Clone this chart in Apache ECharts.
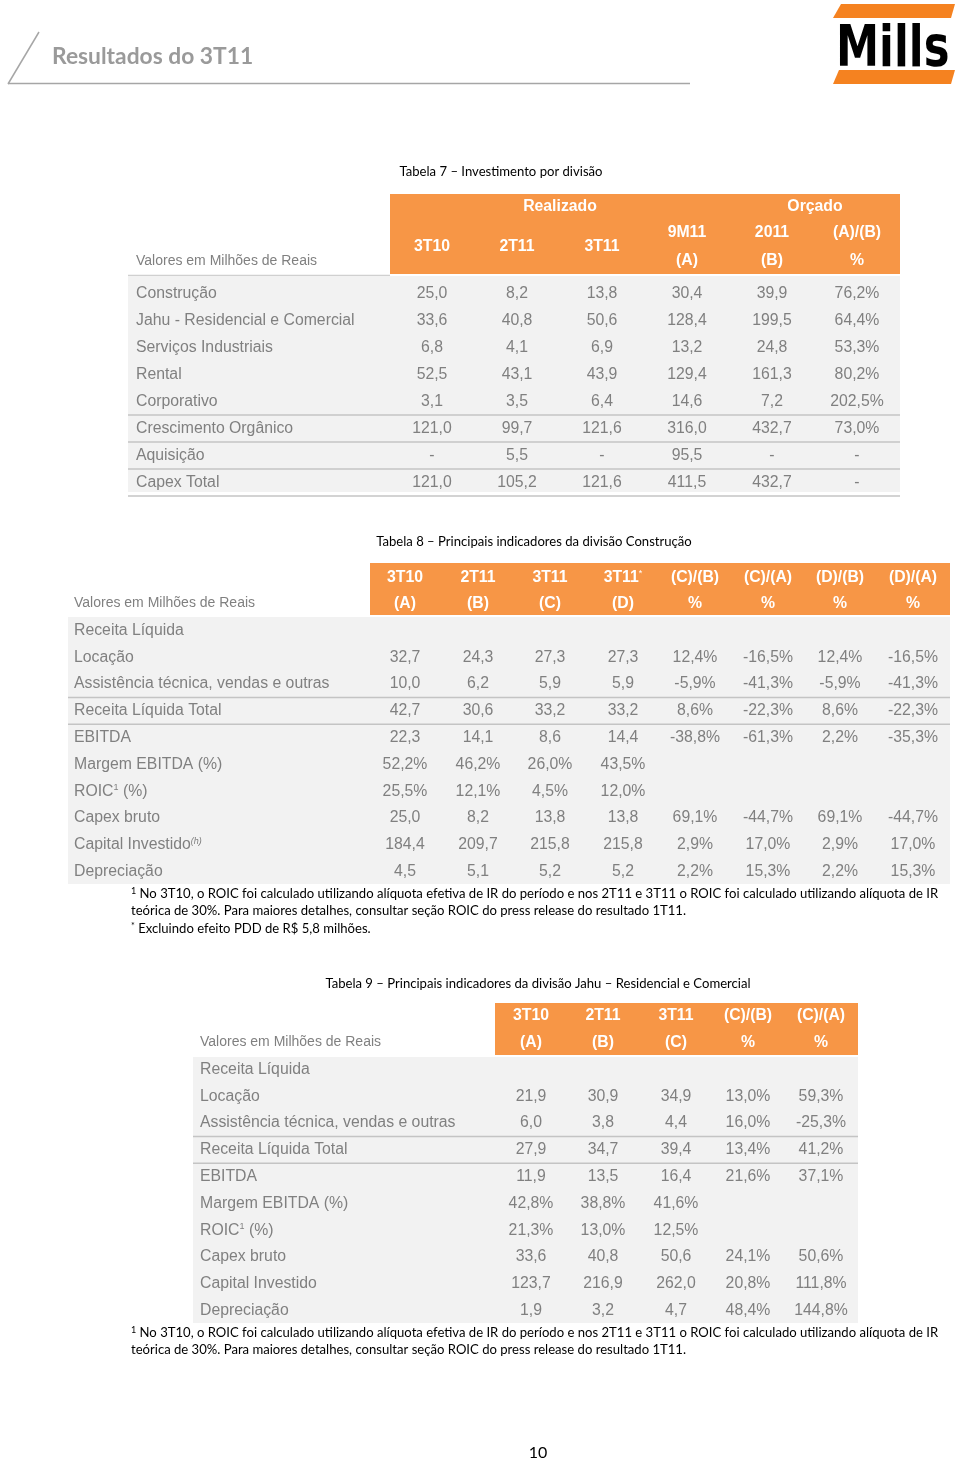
<!DOCTYPE html>
<html>
<head>
<meta charset="utf-8">
<script src="https://cdn.jsdelivr.net/npm/echarts@6/dist/echarts.min.js"></script>
<style>
  html, body { margin: 0; background: #fff; }
  #chart { width: 960px; height: 1463px; }
</style>
</head>
<body>
<div id="chart"></div>
<script>
// ---- data ----
const pageTitle = 'Resultados do 3T11';
const pageNumber = '10';
const unitLabel = 'Valores em Milhões de Reais';

// Tabela 7
const t7Title = 'Tabela 7 – Investimento por divisão';
const t7Groups = ['Realizado', 'Orçado'];
const t7Head1 = ['3T10', '2T11', '3T11', '9M11', '2011', '(A)/(B)'];
const t7Head2 = [null, null, null, '(A)', '(B)', '%'];
const t7Rows = ['Construção', 'Jahu - Residencial e Comercial', 'Serviços Industriais', 'Rental',
  'Corporativo', 'Crescimento Orgânico', 'Aquisição', 'Capex Total'];
const t7Values = [
  [25.0, 8.2, 13.8, 30.4, 39.9, 76.2],
  [33.6, 40.8, 50.6, 128.4, 199.5, 64.4],
  [6.8, 4.1, 6.9, 13.2, 24.8, 53.3],
  [52.5, 43.1, 43.9, 129.4, 161.3, 80.2],
  [3.1, 3.5, 6.4, 14.6, 7.2, 202.5],
  [121.0, 99.7, 121.6, 316.0, 432.7, 73.0],
  [null, 5.5, null, 95.5, null, null],
  [121.0, 105.2, 121.6, 411.5, 432.7, null]
];

// Tabela 8
const t8Title = 'Tabela 8 – Principais indicadores da divisão Construção';
const t8Head1 = ['3T10', '2T11', '3T11', '3T11{sup|*}', '(C)/(B)', '(C)/(A)', '(D)/(B)', '(D)/(A)'];
const t8Head2 = ['(A)', '(B)', '(C)', '(D)', '%', '%', '%', '%'];
const t8Rows = ['Receita Líquida', 'Locação', 'Assistência técnica, vendas e outras', 'Receita Líquida Total',
  'EBITDA', 'Margem EBITDA (%)', 'ROIC{sup|1} (%)', 'Capex bruto', 'Capital Investido{supi|(h)}', 'Depreciação'];
const t8Values = [
  [],
  [32.7, 24.3, 27.3, 27.3, 12.4, -16.5, 12.4, -16.5],
  [10.0, 6.2, 5.9, 5.9, -5.9, -41.3, -5.9, -41.3],
  [42.7, 30.6, 33.2, 33.2, 8.6, -22.3, 8.6, -22.3],
  [22.3, 14.1, 8.6, 14.4, -38.8, -61.3, 2.2, -35.3],
  [52.2, 46.2, 26.0, 43.5],
  [25.5, 12.1, 4.5, 12.0],
  [25.0, 8.2, 13.8, 13.8, 69.1, -44.7, 69.1, -44.7],
  [184.4, 209.7, 215.8, 215.8, 2.9, 17.0, 2.9, 17.0],
  [4.5, 5.1, 5.2, 5.2, 2.2, 15.3, 2.2, 15.3]
];
const t8Notes = [
  '{sup|1} No 3T10, o ROIC foi calculado utilizando alíquota efetiva de IR do período e nos 2T11 e 3T11 o ROIC foi calculado utilizando alíquota de IR',
  'teórica de 30%. Para maiores detalhes, consultar seção ROIC do press release do resultado 1T11.',
  '{sup|*} Excluindo efeito PDD de R$ 5,8 milhões.'
];

// Tabela 9
const t9Title = 'Tabela 9 – Principais indicadores da divisão Jahu – Residencial e Comercial';
const t9Head1 = ['3T10', '2T11', '3T11', '(C)/(B)', '(C)/(A)'];
const t9Head2 = ['(A)', '(B)', '(C)', '%', '%'];
const t9Rows = ['Receita Líquida', 'Locação', 'Assistência técnica, vendas e outras', 'Receita Líquida Total',
  'EBITDA', 'Margem EBITDA (%)', 'ROIC{sup|1} (%)', 'Capex bruto', 'Capital Investido', 'Depreciação'];
const t9Values = [
  [],
  [21.9, 30.9, 34.9, 13.0, 59.3],
  [6.0, 3.8, 4.4, 16.0, -25.3],
  [27.9, 34.7, 39.4, 13.4, 41.2],
  [11.9, 13.5, 16.4, 21.6, 37.1],
  [42.8, 38.8, 41.6],
  [21.3, 13.0, 12.5],
  [33.6, 40.8, 50.6, 24.1, 50.6],
  [123.7, 216.9, 262.0, 20.8, 111.8],
  [1.9, 3.2, 4.7, 48.4, 144.8]
];
const t9Notes = [
  '{sup|1} No 3T10, o ROIC foi calculado utilizando alíquota efetiva de IR do período e nos 2T11 e 3T11 o ROIC foi calculado utilizando alíquota de IR',
  'teórica de 30%. Para maiores detalhes, consultar seção ROIC do press release do resultado 1T11.'
];

// ---- styles ----
const ORANGE = '#F79646';
const LOGO_ORANGE = '#F58220';
const BODY_BG = '#F2F2F2';
const TXT = '#808080';
const RULE = '#C4C4C4';
const SANS = '"Liberation Sans", Arial, sans-serif';
const NOTE = 'Lato, "Open Sans", sans-serif';
const FS = 15.8;   // body text size
const NFS = 13.1;  // captions / notes

const els = [];

function fmt(v, pct) {
  if (v === null) return '-';
  if (v === undefined) return '';
  return v.toFixed(1).replace('.', ',') + (pct ? '%' : '');
}

function text(x, y, str, o) {
  const fill = (o && o.fill) || TXT;
  const fam = (o && o.fontFamily) || SANS;
  els.push({
    type: 'text', x, y, silent: true,
    scaleX: (o && o.sx) || 1,
    style: Object.assign({
      text: str, fill: TXT, fontSize: FS, fontFamily: SANS,
      align: 'left', verticalAlign: 'middle',
      rich: {
        sup: { fontSize: 9, verticalAlign: 'top', fill, fontFamily: fam },
        supi: { fontSize: 9, fontStyle: 'italic', verticalAlign: 'top', fill, fontFamily: fam }
      }
    }, o)
  });
}
function rect(x, y, w, h, fill) {
  els.push({ type: 'rect', silent: true, shape: { x, y, width: w, height: h }, style: { fill } });
}
function hline(x1, x2, y, color, w) {
  els.push({ type: 'line', silent: true, shape: { x1, y1: y, x2, y2: y }, style: { stroke: color, lineWidth: w || 1 } });
}

function body(rows, values, L, pctOf) {
  rect(L.x0, L.y0, L.x1 - L.x0, L.y1 - L.y0, BODY_BG);
  L.rules.forEach(i => hline(L.x0, L.x1, L.rowY0 + L.rowH * i + L.rowH / 2, RULE, 1.5));
  rows.forEach((name, r) => {
    const y = L.rowY0 + L.rowH * r;
    text(L.labelX, y, name);
    values[r].forEach((v, c) => text(L.colX[c], y, fmt(v, pctOf(r, c)), { align: 'center' }));
  });
}

function header(head1, head2, L) {
  rect(L.x0, L.y0, L.x1 - L.x0, L.y1 - L.y0, ORANGE);
  head1.forEach((h, c) => {
    const two = head2[c] !== null;
    text(L.colX[c], two ? L.r1 : (L.r1 + L.r2) / 2, h,
      { align: 'center', fill: '#fff', fontWeight: 'bold' });
    if (two) text(L.colX[c], L.r2, head2[c], { align: 'center', fill: '#fff', fontWeight: 'bold' });
  });
}

// ---- page header ----
els.push({ type: 'line', silent: true, shape: { x1: 8, y1: 84, x2: 39, y2: 32 }, style: { stroke: '#A6A6A6', lineWidth: 1.5 } });
hline(8, 690, 83.5, '#A6A6A6', 1.5);
text(52, 57, pageTitle, { fill: '#9A9A9A', fontSize: 22.8, fontFamily: NOTE, fontWeight: 'bold' });
// logo
els.push({ type: 'polygon', silent: true, shape: { points: [[841, 4], [955, 4], [951, 18], [833, 18]] }, style: { fill: LOGO_ORANGE } });
els.push({ type: 'polygon', silent: true, shape: { points: [[839, 70], [955, 70], [951, 84], [833, 84]] }, style: { fill: LOGO_ORANGE } });
text(836, 51, 'Mills', { fill: '#000', fontSize: 57, fontWeight: 'bold', fontFamily: '"DejaVu Sans", sans-serif', sx: 0.76 });

// ---- Tabela 7 ----
const t7Cols = [432, 517, 602, 687, 772, 857];
text(501, 172, t7Title, { fill: '#000', fontSize: NFS, fontFamily: NOTE, align: 'center' });
rect(390, 194, 510, 80, ORANGE);
text(560, 207, t7Groups[0], { align: 'center', fill: '#fff', fontWeight: 'bold' });
text(815, 207, t7Groups[1], { align: 'center', fill: '#fff', fontWeight: 'bold' });
t7Head1.forEach((h, c) => {
  const two = t7Head2[c] !== null;
  text(t7Cols[c], two ? 233 : 247, h, { align: 'center', fill: '#fff', fontWeight: 'bold' });
  if (two) text(t7Cols[c], 261, t7Head2[c], { align: 'center', fill: '#fff', fontWeight: 'bold' });
});
text(136, 261, unitLabel, { fontSize: 14 });
hline(128, 390, 275.5, '#D0D0D0', 1.5);
body(t7Rows, t7Values, {
  x0: 128, x1: 900, y0: 276, y1: 492, rowY0: 293.5, rowH: 27, rules: [4, 5, 6, 7],
  labelX: 136, colX: t7Cols
}, (r, c) => c === 5);

// ---- Tabela 8 ----
const t8Cols = [405, 478, 550, 623, 695, 768, 840, 913];
text(534, 542, t8Title, { fill: '#000', fontSize: NFS, fontFamily: NOTE, align: 'center' });
header(t8Head1, t8Head2, { x0: 370, x1: 950, y0: 563, y1: 615, r1: 577.5, r2: 603.5, colX: t8Cols });
text(74, 603.5, unitLabel, { fontSize: 14 });
body(t8Rows, t8Values, {
  x0: 68, x1: 950, y0: 617, y1: 884, rowY0: 630.5, rowH: 26.8, rules: [2, 3],
  labelX: 74, colX: t8Cols
}, (r, c) => c >= 4 || r === 5 || r === 6);
t8Notes.forEach((n, i) => text(131, 893.5 + i * 17.5, n, { fill: '#000', fontSize: NFS, fontFamily: NOTE }));

// ---- Tabela 9 ----
const t9Cols = [531, 603, 676, 748, 821];
text(538, 983.5, t9Title, { fill: '#000', fontSize: NFS, fontFamily: NOTE, align: 'center' });
header(t9Head1, t9Head2, { x0: 495, x1: 858, y0: 1003, y1: 1055, r1: 1015.5, r2: 1042.5, colX: t9Cols });
text(200, 1042.5, unitLabel, { fontSize: 14 });
body(t9Rows, t9Values, {
  x0: 193, x1: 858, y0: 1057, y1: 1323, rowY0: 1069.5, rowH: 26.8, rules: [2, 3],
  labelX: 200, colX: t9Cols
}, (r, c) => c >= 3 || r === 5 || r === 6);
t9Notes.forEach((n, i) => text(131, 1332.5 + i * 17.5, n, { fill: '#000', fontSize: NFS, fontFamily: NOTE }));

text(538, 1453, pageNumber, { fill: '#000', fontSize: 16, fontFamily: NOTE, align: 'center' });

const chart = echarts.init(document.getElementById('chart'), null, { renderer: 'canvas' });
chart.setOption({ animation: false, graphic: { elements: els } });
</script>
</body>
</html>
